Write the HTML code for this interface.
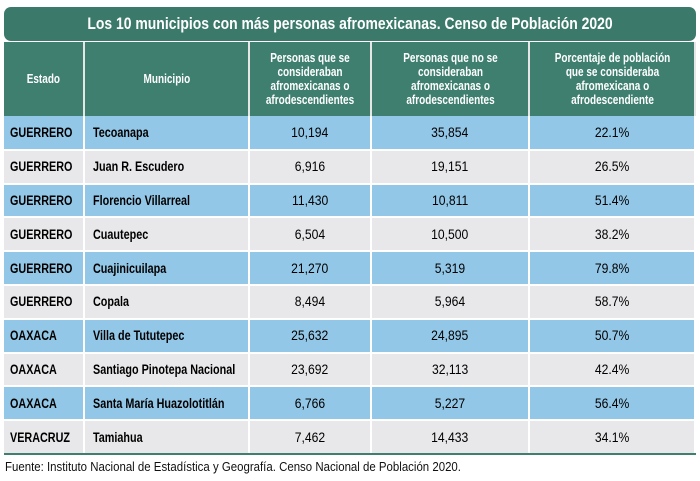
<!DOCTYPE html>
<html><head><meta charset="utf-8"><style>
body{margin:0;width:700px;height:481px;background:#fff;font-family:"Liberation Sans",sans-serif;position:relative;overflow:hidden}
.title{position:absolute;left:4px;top:7px;width:692px;height:34px;background:#3b7a6a;border-radius:7px;color:#fff;font-weight:bold;font-size:17px;text-align:center;line-height:34px}
.c{display:block;white-space:nowrap;transform:scaleX(.82)}
.l{display:inline-block;white-space:nowrap;transform:scaleX(.8);transform-origin:left center}
table{position:absolute;left:4px;top:42px;width:691px;border-collapse:collapse;table-layout:fixed}
th{background:#3e7f6f;color:#fff;font-size:12.5px;font-weight:bold;height:74px;border-right:2px solid #e6e6e6;padding:0;line-height:14px}
th .w{display:block;width:125%;margin-left:-12.5%;transform:scaleX(.8)}
td{height:33.8px;padding:0;border-right:2px solid #fff;border-bottom:2px solid #fff;font-size:13.5px;box-sizing:border-box;white-space:nowrap;overflow:hidden}
tr.b td{background:#93c7e7}tr.g td{background:#e8e8ea}
td.s{font-weight:bold;padding-left:6px}td.m{font-weight:bold;padding-left:8px}
td.n{text-align:center}
td.n span{display:inline-block;transform:scaleX(.9)}
tr:last-child td{border-bottom:2px solid #3e7f6f}
.foot{position:absolute;left:5px;top:459px;font-size:13px;color:#111;white-space:nowrap;transform:scaleX(.88);transform-origin:left center}
</style></head><body>
<div class="title"><span class="c">Los 10 municipios con más personas afromexicanas. Censo de Población 2020</span></div>
<table>
<colgroup><col style="width:80px"><col style="width:165px"><col style="width:122px"><col style="width:158px"><col style="width:166px"></colgroup>
<tr><th><span class="w">Estado</span></th><th><span class="w">Municipio</span></th><th><span class="w">Personas que se<br>consideraban<br>afromexicanas o<br>afrodescendientes</span></th><th><span class="w">Personas que no se<br>consideraban<br>afromexicanas o<br>afrodescendientes</span></th><th><span class="w">Porcentaje de población<br>que se consideraba<br>afromexicana o<br>afrodescendiente</span></th></tr>
<tr class="b"><td class="s"><span class="l">GUERRERO</span></td><td class="m"><span class="l">Tecoanapa</span></td><td class="n"><span>10,194</span></td><td class="n"><span>35,854</span></td><td class="n"><span>22.1%</span></td></tr>
<tr class="g"><td class="s"><span class="l">GUERRERO</span></td><td class="m"><span class="l">Juan R. Escudero</span></td><td class="n"><span>6,916</span></td><td class="n"><span>19,151</span></td><td class="n"><span>26.5%</span></td></tr>
<tr class="b"><td class="s"><span class="l">GUERRERO</span></td><td class="m"><span class="l">Florencio Villarreal</span></td><td class="n"><span>11,430</span></td><td class="n"><span>10,811</span></td><td class="n"><span>51.4%</span></td></tr>
<tr class="g"><td class="s"><span class="l">GUERRERO</span></td><td class="m"><span class="l">Cuautepec</span></td><td class="n"><span>6,504</span></td><td class="n"><span>10,500</span></td><td class="n"><span>38.2%</span></td></tr>
<tr class="b"><td class="s"><span class="l">GUERRERO</span></td><td class="m"><span class="l">Cuajinicuilapa</span></td><td class="n"><span>21,270</span></td><td class="n"><span>5,319</span></td><td class="n"><span>79.8%</span></td></tr>
<tr class="g"><td class="s"><span class="l">GUERRERO</span></td><td class="m"><span class="l">Copala</span></td><td class="n"><span>8,494</span></td><td class="n"><span>5,964</span></td><td class="n"><span>58.7%</span></td></tr>
<tr class="b"><td class="s"><span class="l">OAXACA</span></td><td class="m"><span class="l">Villa de Tututepec</span></td><td class="n"><span>25,632</span></td><td class="n"><span>24,895</span></td><td class="n"><span>50.7%</span></td></tr>
<tr class="g"><td class="s"><span class="l">OAXACA</span></td><td class="m"><span class="l">Santiago Pinotepa Nacional</span></td><td class="n"><span>23,692</span></td><td class="n"><span>32,113</span></td><td class="n"><span>42.4%</span></td></tr>
<tr class="b"><td class="s"><span class="l">OAXACA</span></td><td class="m"><span class="l">Santa María Huazolotitlán</span></td><td class="n"><span>6,766</span></td><td class="n"><span>5,227</span></td><td class="n"><span>56.4%</span></td></tr>
<tr class="g"><td class="s"><span class="l">VERACRUZ</span></td><td class="m"><span class="l">Tamiahua</span></td><td class="n"><span>7,462</span></td><td class="n"><span>14,433</span></td><td class="n"><span>34.1%</span></td></tr>
</table>
<div class="foot">Fuente: Instituto Nacional de Estadística y Geografía. Censo Nacional de Población 2020.</div>
</body></html>
